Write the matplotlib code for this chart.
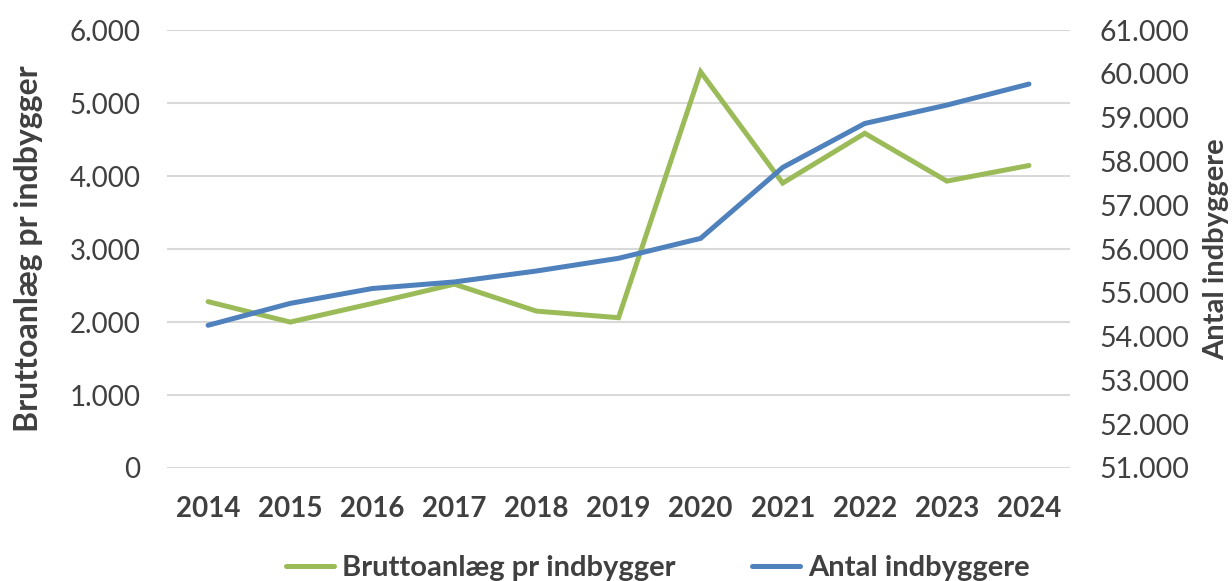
import matplotlib
matplotlib.use("Agg")
import matplotlib.pyplot as plt
from matplotlib.ticker import FuncFormatter

years = ["2014", "2015", "2016", "2017", "2018", "2019", "2020", "2021", "2022", "2023", "2024"]
brutto = [2280, 2000, 2255, 2520, 2150, 2060, 5430, 3905, 4587, 3932, 4146]
indbyggere = [54260, 54760, 55100, 55250, 55500, 55790, 56245, 57865, 58870, 59290, 59770]

green = "#9BBB59"
blue = "#4F81BD"
txt = "#404040"
plt.rcParams['font.family'] = ['Lato', 'DejaVu Sans']

fig = plt.figure(figsize=(12.32, 5.81), dpi=100)
ax = fig.add_axes([0.1356, 0.1945, 0.8685 - 0.1356, 0.948 - 0.1945])
ax2 = ax.twinx()

x = list(range(len(years)))
l1, = ax.plot(x, brutto, color=green, lw=3.6, solid_capstyle='round', solid_joinstyle='miter', label="Bruttoanlæg pr indbygger", zorder=3)
l2, = ax2.plot(x, indbyggere, color=blue, lw=3.6, solid_capstyle='round', solid_joinstyle='miter', label="Antal indbyggere", zorder=3)

ax.set_xlim(-0.5, len(years) - 0.5)
ax.set_ylim(0, 6000)
ax.set_yticks(range(0, 6001, 1000))
ax2.set_ylim(51000, 61000)
ax2.set_yticks(range(51000, 61001, 1000))

fmt = FuncFormatter(lambda v, p: f"{int(v):,}".replace(",", "."))
ax.yaxis.set_major_formatter(fmt)
ax2.yaxis.set_major_formatter(fmt)

ax.set_xticks(x)
ax.set_xticklabels(years, fontsize=20, fontweight='bold', color=txt)
ax.grid(axis='y', color='#d9d9d9', lw=1.5)
ax.set_axisbelow(True)

for a in (ax, ax2):
    for s in a.spines.values():
        s.set_visible(False)
    a.tick_params(length=0, labelsize=20, colors=txt)
ax.tick_params(axis='x', pad=20, labelsize=20)
ax.tick_params(axis='y', pad=19)
ax2.tick_params(axis='y', pad=21, labelsize=20.5)

ax.set_ylabel("Bruttoanlæg pr indbygger", fontsize=23, fontweight='bold', color=txt, labelpad=19)
ax2.set_ylabel("Antal indbyggere", fontsize=21, fontweight='bold', color=txt, labelpad=10)

fig.legend(handles=[l1, l2], loc='lower center', bbox_to_anchor=(0.534, -0.045), ncol=2,
           frameon=False, prop={'size': 21, 'weight': 'bold'}, labelcolor=txt,
           handlelength=1.65, handletextpad=0.28, columnspacing=2.6)

fig.savefig("out.png", dpi=100)
